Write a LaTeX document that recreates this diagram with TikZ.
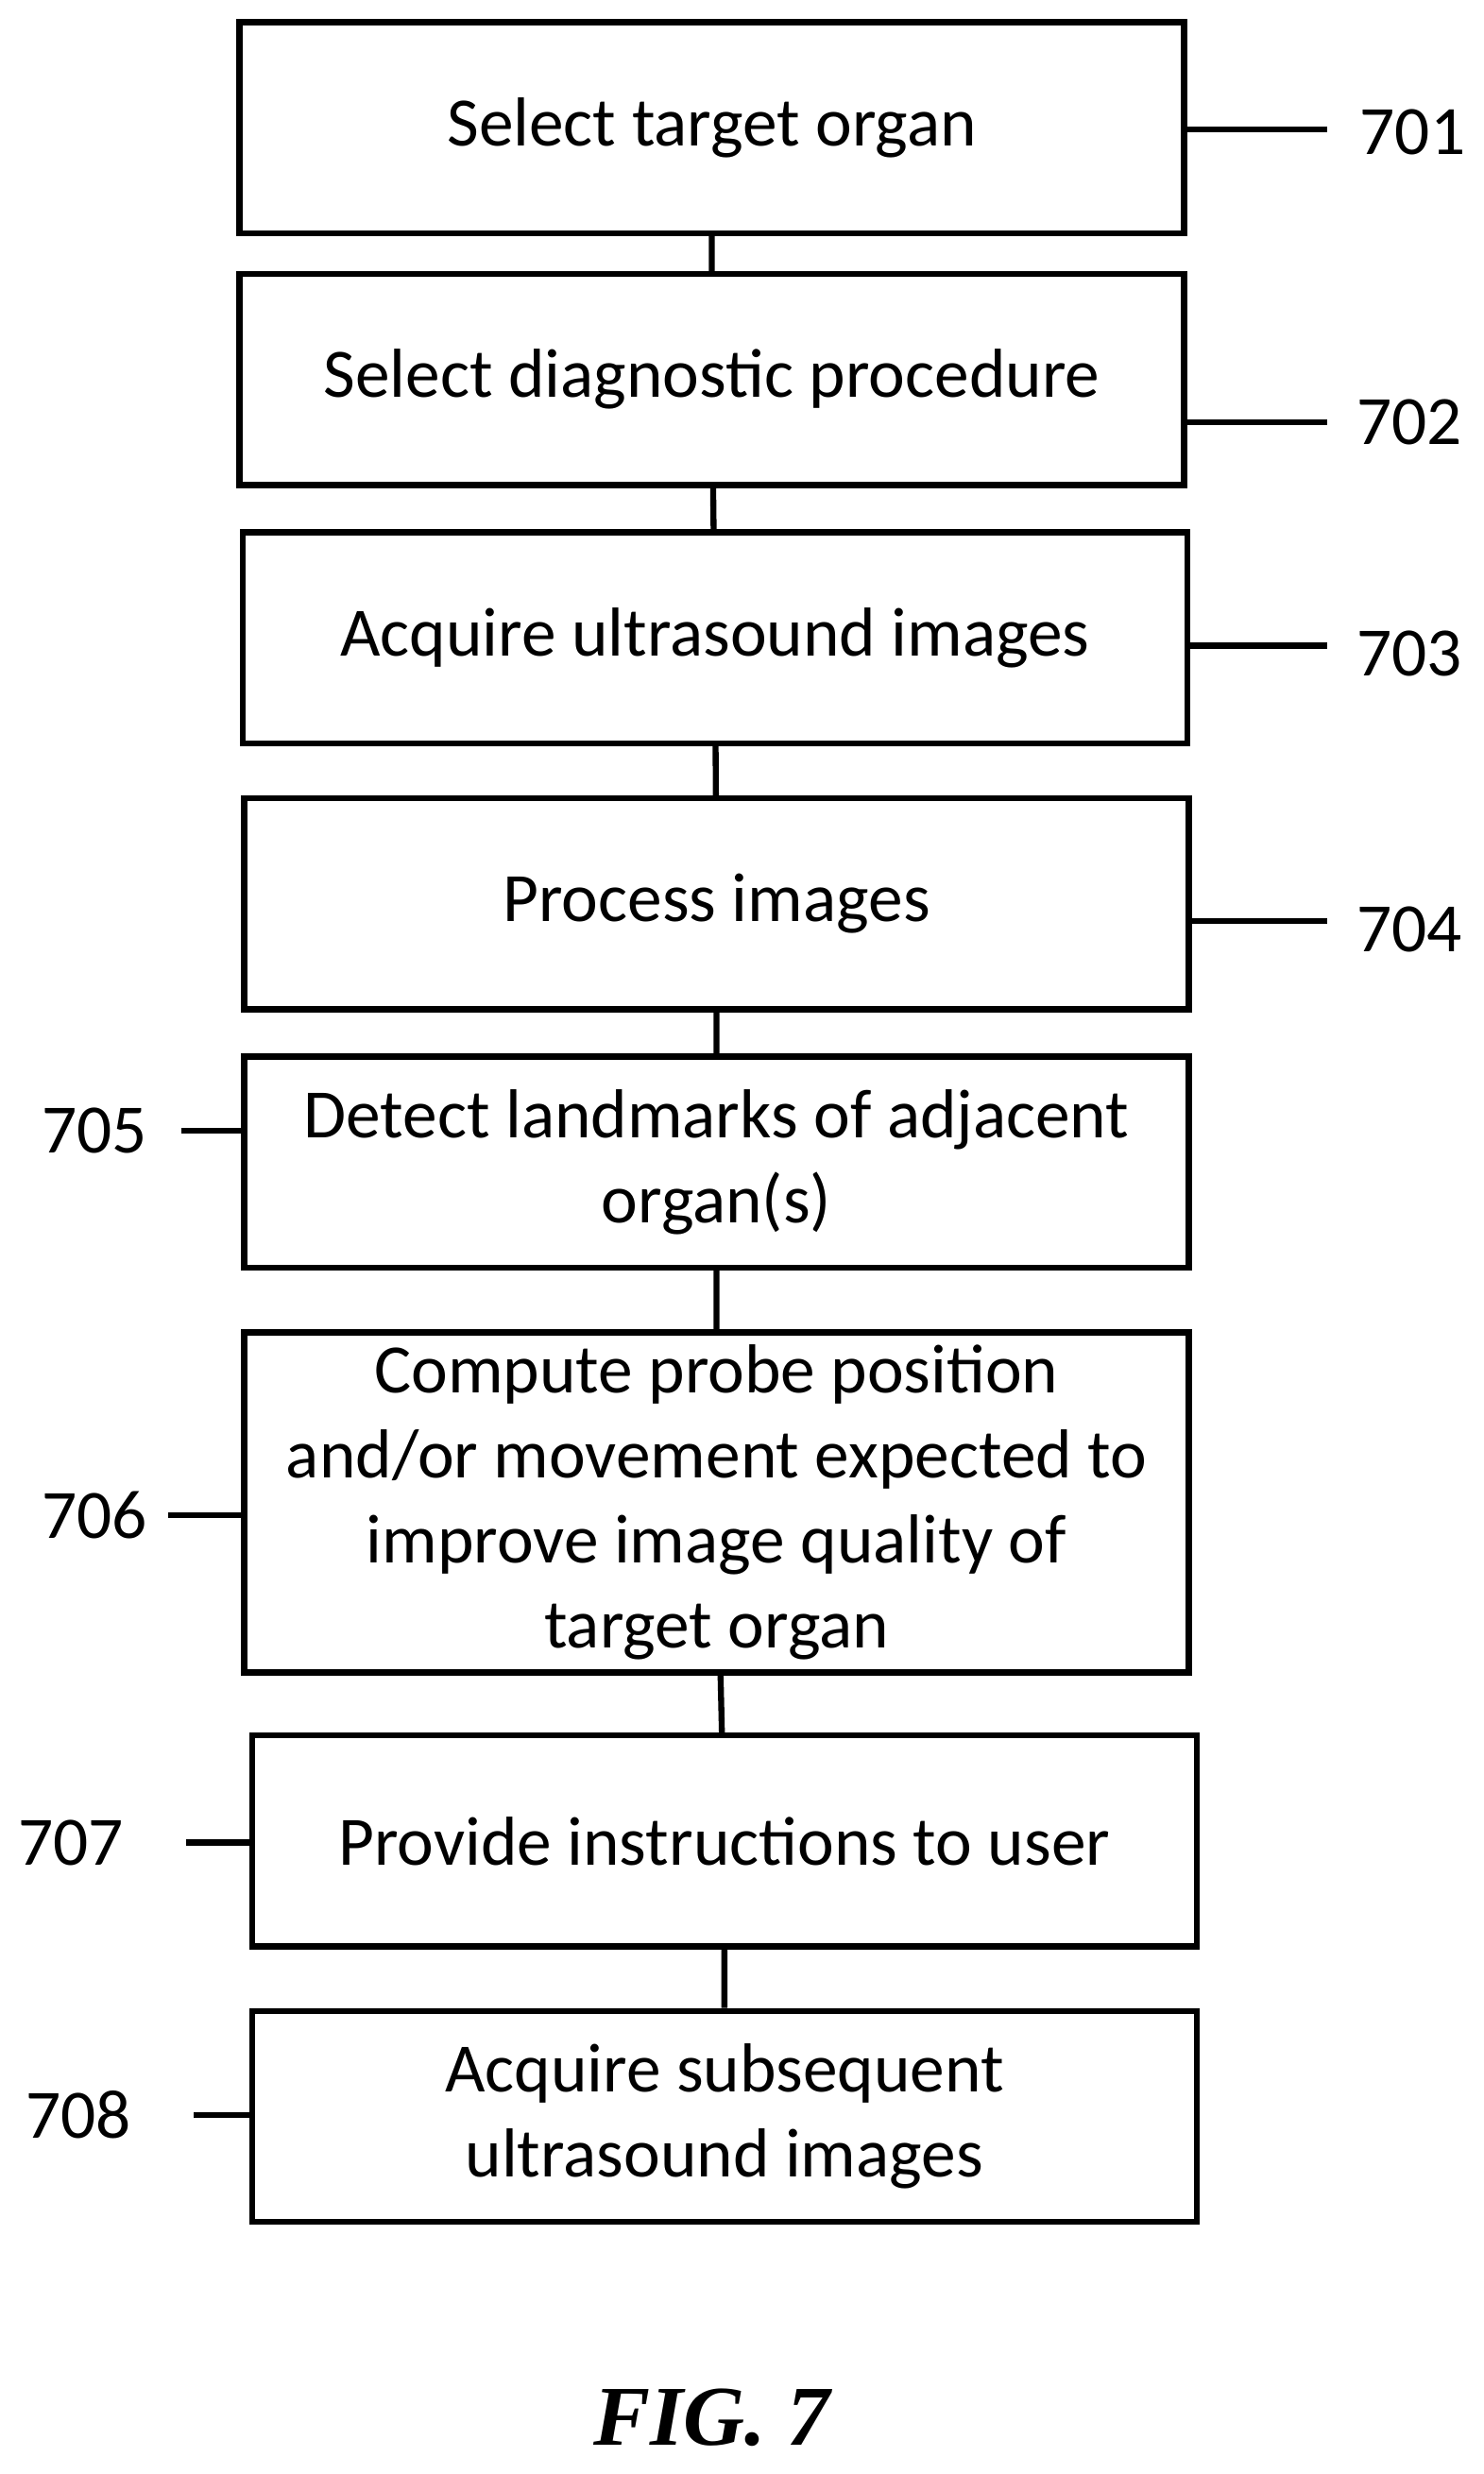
\documentclass[tikz,border=0pt]{standalone}
\usepackage{fontspec}
\setmainfont{Carlito}
\newfontfamily\figfont{Liberation Serif}
\begin{document}
\begin{tikzpicture}[x=0.5pt,y=-0.5pt,line width=1.9pt,
    stepbox/.style={draw,minimum width=300pt,minimum height=67pt,align=center,
      font=\fontsize{22}{27}\selectfont,inner sep=2pt},
    ref/.style={font=\fontsize{22}{26}\selectfont}]
        \useasboundingbox (0,0) rectangle (942,1571);
        \node[stepbox] (s1) at (452,81) {Select target organ};
        \node[stepbox] (s2) at (452,241) {Select diagnostic procedure};
        \node[stepbox] (s3) at (454,405) {Acquire ultrasound images};
        \node[stepbox] (s4) at (455,574) {Process images};
        \node[stepbox] (s5) at (455,738) {Detect landmarks of adjacent\\organ(s)};
        \node[stepbox,minimum height=108pt] (s6) at (455,954) {Compute probe position\\and/or movement expected to\\improve image quality of\\target organ};
        \node[stepbox] (s7) at (460,1169) {Provide instructions to user};
        \node[stepbox] (s8) at (460,1344) {Acquire subsequent\\ultrasound images};
        \draw (s1) -- (s2) (s2) -- (s3) (s3) -- (s4) (s4) -- (s5)
              (s5) -- (s6) (s6) -- (s7) (s7) -- (s8);
        % reference numerals
        \node[ref] (r1) at (897,84) {701};
        \node[ref] (r2) at (895,268) {702};
        \node[ref] (r3) at (895,415) {703};
        \node[ref] (r4) at (895,590) {704};
        \node[ref] (r5) at (60,718) {705};
        \node[ref] (r6) at (60,962) {706};
        \node[ref] (r7) at (45,1170) {707};
        \node[ref] (r8) at (50,1343) {708};
        \draw (s1.east |- 0,82) -- (843,82);
        \draw (s2.east |- 0,268) -- (843,268);
        \draw (s3.east |- 0,410) -- (843,410);
        \draw (s4.east |- 0,585) -- (843,585);
        \draw (115,718) -- (s5.west |- 0,718);
        \draw (107,962) -- (s6.west |- 0,962);
        \draw (118,1170) -- (s7.west |- 0,1170);
        \draw (123,1343) -- (s8.west |- 0,1343);
        \node[font=\figfont\fontsize{27}{30}\selectfont\bfseries\itshape] (fig) at (452,1535) {FIG. 7};
\end{tikzpicture}
\end{document}
